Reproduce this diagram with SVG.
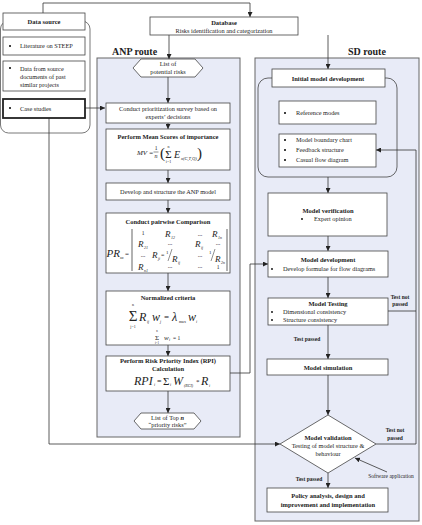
<svg xmlns="http://www.w3.org/2000/svg" width="422" height="525" viewBox="0 0 422 525">
<style>
text{font-family:"Liberation Serif","Times New Roman",serif;fill:#222}
.t{font-size:6.3px}
.b{font-size:6.5px;font-weight:bold}
.c{text-anchor:middle}
.lbl{font-size:10px;font-weight:bold}
.i{font-style:italic}
.box{fill:#fff;stroke:#444;stroke-width:0.8}
.cont{fill:#e8ebf7;stroke:#666;stroke-width:1}
.ln{fill:none;stroke:#333;stroke-width:0.8}
.sm{font-size:4px}
.fm{font-style:italic;font-size:9px}
</style>
<defs>
<marker id="ar" viewBox="0 0 10 10" refX="10" refY="5" markerWidth="5" markerHeight="5" orient="auto" markerUnits="userSpaceOnUse"><path d="M0,0 L10,5 L0,10 z" fill="#222"/></marker>
</defs>

<!-- containers -->
<rect id="anp-route" class="cont" x="97" y="58" width="143" height="379"/>
<rect id="sd-route" class="cont" x="255" y="58" width="164" height="463"/>
<text class="lbl" x="112" y="55">ANP route</text>
<text class="lbl" x="348" y="55">SD route</text>
<rect x="0.5" y="21" width="89.5" height="112" rx="8" fill="#fff" stroke="#555" stroke-width="0.8"/>
<rect x="258" y="78" width="139" height="99" rx="10" fill="none" stroke="#444" stroke-width="0.8"/>

<g id="connectors">
<path class="ln" d="M43,13 V3 H250 V17" marker-end="url(#ar)"/>
<path class="ln" d="M169,35 V59" marker-end="url(#ar)"/>
<path class="ln" d="M328,35 V69" marker-end="url(#ar)"/>
<path class="ln" d="M85,108 H105" marker-end="url(#ar)"/>
<path class="ln" d="M49,118 V444 H280" marker-end="url(#ar)"/>
<path class="ln" d="M168,77 V103" marker-end="url(#ar)"/>
<path class="ln" d="M168,123 V129" marker-end="url(#ar)"/>
<path class="ln" d="M168,170 V183" marker-end="url(#ar)"/>
<path class="ln" d="M168,200 V213" marker-end="url(#ar)"/>
<path class="ln" d="M168,273 V291" marker-end="url(#ar)"/>
<path class="ln" d="M168,345 V356" marker-end="url(#ar)"/>
<path class="ln" d="M168,391 V413" marker-end="url(#ar)"/>
<path class="ln" d="M230,373 H250 V264 H268" marker-end="url(#ar)"/>
<path class="ln" d="M328,177 V193" marker-end="url(#ar)"/>
<path class="ln" d="M328,236 V251" marker-end="url(#ar)"/>
<path class="ln" d="M328,277 V298" marker-end="url(#ar)"/>
<path class="ln" d="M328,325 V359" marker-end="url(#ar)"/>
<path class="ln" d="M328,375 V415" marker-end="url(#ar)"/>
<path class="ln" d="M328,473 V488" marker-end="url(#ar)"/>
<path class="ln" d="M388,311 H416"/>
<path class="ln" d="M376,444 H416 V150 H376" marker-end="url(#ar)"/>
<path class="ln" d="M387,472 L355,458" marker-end="url(#ar)"/>
</g>

<g id="data-source"><rect class="box" x="3" y="13" width="82" height="17"/><text class="b c" x="44" y="24">Data source</text></g>
<g id="literature"><rect class="box" x="3" y="37" width="82" height="18"/><circle cx="10" cy="46" r="1"/><text class="t" x="20" y="48">Literature on STEEP</text></g>
<g id="source-docs"><rect class="box" x="3" y="61" width="82" height="30"/><circle cx="10" cy="68" r="1"/><text class="t" x="20" y="71">Data from source</text><text class="t" x="20" y="79">documents of past</text><text class="t" x="20" y="87">similar projects</text></g>
<g id="case-studies"><rect x="3" y="99" width="82" height="19" fill="#fff" stroke="#222" stroke-width="1.8"/><circle cx="10" cy="108" r="1"/><text class="t" x="20" y="111">Case studies</text></g>

<g id="database"><rect class="box" x="150" y="17" width="148" height="18"/><text class="b c" x="224" y="24.5">Database</text><text class="t c" x="224" y="32.5">Risks identification and categorization</text></g>

<g id="potential-risks"><polygon class="box" points="133,68 141,59 195,59 203,68 195,77 141,77"/><text class="t c" x="168" y="66">List of</text><text class="t c" x="168" y="74">potential risks</text></g>

<g id="survey"><rect class="box" x="106" y="103" width="124" height="20"/><text class="t c" x="168" y="111">Conduct prioritization survey based on</text><text class="t c" x="168" y="119">experts’ decisions</text></g>

<g id="mean-scores"><rect class="box" x="106" y="129" width="124" height="41"/><text class="b c" x="168" y="139">Perform Mean Scores of importance</text>
<text class="i" x="137" y="155" font-size="7">MV =</text>
<text class="c" x="156" y="150" font-size="5.5">1</text><line x1="153.5" y1="152" x2="158.5" y2="152" stroke="#222" stroke-width="0.5"/><text class="c i" x="156" y="158" font-size="6">n</text>
<text x="160" y="158" font-size="15" font-weight="lighter">(</text>
<text class="c" x="168.5" y="158" font-size="11">Σ</text><text class="c sm" x="168.5" y="148">n</text><text class="c sm" x="168.5" y="163">i=1</text>
<text class="i" x="174" y="158" font-size="10">E</text><text class="i" x="181" y="160" font-size="4.5">x(C,T,Q)</text>
<text x="197" y="158" font-size="15" font-weight="lighter">)</text>
</g>

<g id="anp-model"><rect class="box" x="106" y="183" width="124" height="17"/><text class="t c" x="168" y="194">Develop and structure the ANP model</text></g>

<g id="pairwise"><rect class="box" x="106" y="213" width="124" height="60"/><text class="b c" x="168" y="224">Conduct pairwise Comparison</text>
<text class="i" x="106.5" y="257" font-size="11">PR</text><text class="i sm" x="120" y="259">xx</text><text x="125" y="256" font-size="7">=</text>
<line x1="132" y1="229" x2="132" y2="271" stroke="#222" stroke-width="0.7"/><line x1="227" y1="229" x2="227" y2="271" stroke="#222" stroke-width="0.7"/>
<text class="c" x="143" y="235" font-size="5.5">1</text>
<text class="fm" x="165" y="237">R</text><text class="sm i" x="171" y="239">12</text>
<text class="c t" x="200" y="236">...</text>
<text class="fm" x="212" y="237">R</text><text class="sm i" x="218" y="239">1n</text>
<text class="fm" x="138" y="247">R</text><text class="sm i" x="144" y="249">21</text>
<text class="c t" x="170" y="245">...</text>
<text class="fm" x="195" y="247">R</text><text class="sm i" x="201" y="249">ij</text>
<text class="c t" x="218" y="245">...</text>
<text class="c t" x="143" y="257">...</text>
<text class="fm" x="152" y="258">R</text><text class="sm i" x="158" y="260">ji</text><text x="161" y="257" font-size="6">=</text>
<text x="166" y="254" font-size="5">1</text><line x1="168" y1="261" x2="172" y2="249" stroke="#222" stroke-width="0.5"/><text class="fm" x="172" y="262">R</text><text class="sm i" x="178" y="264">ij</text>
<text class="c t" x="200" y="257">...</text>
<text x="209" y="254" font-size="5">1</text><line x1="211" y1="261" x2="215" y2="249" stroke="#222" stroke-width="0.5"/><text class="fm" x="215" y="262">R</text><text class="sm i" x="221" y="264">2n</text>
<text class="fm" x="138" y="270">R</text><text class="sm i" x="144" y="272">n1</text>
<text class="c t" x="170" y="268">...</text>
<text class="c t" x="200" y="268">...</text>
<text class="c" x="218" y="269" font-size="5.5">1</text>
</g>

<g id="normalized"><rect class="box" x="106" y="291" width="124" height="54"/><text class="b c" x="168" y="300">Normalized criteria</text>
<text class="c" x="133" y="321" font-size="15">Σ</text><text class="c sm" x="133" y="306">n</text><text class="c sm" x="133" y="328">j=1</text>
<text class="i" x="139" y="321" font-size="12">R</text><text class="i sm" x="147" y="323">ij</text>
<text class="i" x="152" y="321" font-size="12">w</text><text class="i sm" x="160" y="323">j</text>
<text x="164" y="320" font-size="9">=</text>
<text class="i" x="172" y="321" font-size="12">λ</text><text class="sm" x="179" y="323">max</text>
<text class="i" x="188" y="321" font-size="12">w</text><text class="i sm" x="196" y="323">i</text>
<text class="c" x="157" y="340" font-size="7">Σ</text><text class="c" x="157" y="332" font-size="3">n</text><text class="c" x="157" y="344" font-size="3">i=1</text>
<text class="i" x="164" y="340" font-size="7">w</text><text class="i sm" x="169" y="341">i</text><text x="173" y="340" font-size="5.5">= 1</text>
</g>

<g id="rpi"><rect class="box" x="106" y="356" width="124" height="35"/><text class="b c" x="168" y="363">Perform Risk Priority Index (RPI)</text><text class="b c" x="168" y="371">Calculation</text>
<text class="i" x="134" y="385" font-size="12">RPI</text><text class="sm i" x="154" y="386">i</text><text x="157" y="384" font-size="8">=</text>
<text x="163" y="385" font-size="11">Σ</text><text class="sm i" x="170" y="386">i</text>
<text class="i" x="173" y="385" font-size="12">W</text><text class="sm i" x="184" y="387">(RCI)</text><text x="196" y="384" font-size="7">*</text>
<text class="i" x="201" y="385" font-size="12">R</text><text class="sm i" x="209" y="387">i</text>
</g>

<g id="top-n"><polygon class="box" points="134,421 141,413 194,413 201,421 194,429 141,429"/><text class="t c" x="167.5" y="420">List of Top <tspan font-weight="bold" font-style="italic">n</tspan></text><text class="t c" x="167.5" y="427">“priority risks”</text></g>

<g id="initial-model"><rect class="box" x="272" y="69" width="113" height="18"/><text class="b c" x="328" y="80.5">Initial model development</text></g>
<g id="reference-modes"><rect class="box" x="279" y="101" width="97" height="23"/><circle cx="285" cy="113" r="1"/><text class="t" x="296" y="115">Reference modes</text></g>
<g id="boundary"><rect class="box" x="279" y="134" width="97" height="33"/><circle cx="285" cy="140" r="1"/><text class="t" x="296" y="142">Model boundary chart</text><circle cx="285" cy="150" r="1"/><text class="t" x="296" y="152">Feedback structure</text><circle cx="285" cy="160" r="1"/><text class="t" x="296" y="162">Casual flow diagram</text></g>

<g id="verification"><rect class="box" x="268" y="193" width="119" height="43"/><text class="b c" x="328" y="213">Model verification</text><circle cx="302" cy="219" r="0.9"/><text class="t" x="314" y="221">Expert opinion</text></g>
<g id="development"><rect class="box" x="268" y="251" width="120" height="26"/><text class="b c" x="328" y="262">Model development</text><circle cx="272" cy="269" r="0.9"/><text class="t" x="283" y="271">Develop formulae for flow diagrams</text></g>
<g id="testing"><rect class="box" x="268" y="298" width="120" height="27"/><text class="b c" x="328" y="306">Model Testing</text><circle cx="272" cy="312" r="0.9"/><text class="t" x="283" y="314">Dimensional consistency</text><circle cx="272" cy="320" r="0.9"/><text class="t" x="283" y="322">Structure consistency</text></g>
<g id="simulation"><rect class="box" x="267" y="359" width="121" height="16"/><text class="b c" x="328" y="369.5">Model simulation</text></g>
<g id="validation"><polygon class="box" points="328,415 376,444 328,473 280,444"/><text class="b c" x="328" y="440">Model validation</text><text class="t c" x="328" y="448">Testing of model structure &amp;</text><text class="t c" x="328" y="456">behaviour</text></g>
<g id="policy"><rect class="box" x="267" y="488" width="121" height="24"/><text class="b c" x="328" y="498">Policy analysis, design and</text><text class="b c" x="328" y="507">improvement and implementation</text></g>

<g id="labels">
<text class="c" x="400" y="299" font-size="5.5" font-weight="bold">Test not</text><text class="c" x="400" y="306" font-size="5.5" font-weight="bold">passed</text>
<text class="c" x="307" y="341" font-size="5.5" font-weight="bold">Test passed</text>
<text class="c" x="395" y="432" font-size="5.5" font-weight="bold">Test not</text><text class="c" x="395" y="440" font-size="5.5" font-weight="bold">passed</text>
<text class="c" x="309" y="481" font-size="5.5" font-weight="bold">Test passed</text>
<text class="c" x="391" y="478" font-size="5.5">Software application</text>
</g>
</svg>
